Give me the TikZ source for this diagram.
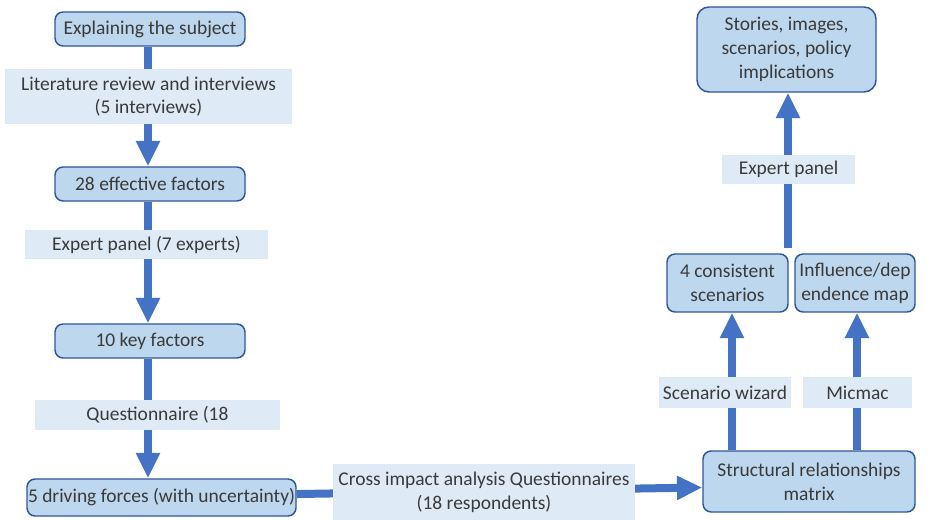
\documentclass[tikz,border=0pt]{standalone}
\usepackage{fontspec}
\setmainfont{Carlito}
\usetikzlibrary{arrows.meta}
\definecolor{boxfill}{HTML}{BDD7EE}
\definecolor{boxline}{HTML}{2F5597}
\definecolor{lblfill}{HTML}{DEEBF7}
\definecolor{arrowc}{HTML}{4472C4}
\definecolor{txt}{HTML}{3A3A3A}
\begin{document}
\begin{tikzpicture}[x=0.75pt,y=-0.75pt,
  every node/.style={text=txt,font=\fontsize{14.6}{17.8}\selectfont,align=center,inner sep=0pt},
  box/.style={draw=boxline,fill=boxfill,line width=1.1pt,rounded corners=6pt},
  lbl/.style={fill=lblfill},
  arr/.style={draw=arrowc,line width=6pt,-{Triangle[width=17pt,length=19pt]}}]
\useasboundingbox (0,0) rectangle (932,520);
% boxes
\node[box,minimum width=142.5pt,minimum height=25.5pt] (expl) at (150,29) {Explaining the subject};
\node[box,minimum width=142.5pt,minimum height=25.5pt] (f28) at (150,184) {28 effective factors};
\node[box,minimum width=142.5pt,minimum height=25.5pt] (f10) at (150,341) {10 key factors};
\node[box,minimum width=201.75pt,minimum height=27.75pt] (five) at (161.5,497.5) {5 driving forces (with uncertainty)};
\node[box,minimum width=159pt,minimum height=45.75pt] (struct) at (809,481.5) {Structural relationships\\matrix};
\node[box,minimum width=90.75pt,minimum height=43.5pt] (cons) at (727.5,283) {4 consistent\\scenarios};
\node[box,minimum width=90pt,minimum height=43.5pt] (infl) at (855,283) {Influence/dep\\endence map};
\node[box,minimum width=134.25pt,minimum height=63.75pt,rounded corners=9pt] (stories) at (786.5,49.5) {Stories, images,\\scenarios, policy\\implications};
% connectors
\draw[arr] (expl.south -| 148,0) -- (f28.north -| 148,0);
\draw[arr] (f28.south -| 148,0) -- (f10.north -| 148,0);
\draw[arr] (f10.south -| 148,0) -- (five.north -| 148,0);
\draw[arr] ([yshift=2.6pt]five.east) -- ([yshift=-4.5pt]struct.west);
\draw[arr] (struct.north -| 732,0) -- (cons.south -| 732,0);
\draw[arr] (struct.north -| 857,0) -- (infl.south -| 857,0);
\coordinate (epstart) at (788,248);
\draw[arr] (epstart) -- (stories.south -| epstart);
% labels
\node[lbl,minimum width=215.25pt,minimum height=41.25pt] (l1) at (148.5,96.5) {Literature review and interviews\\(5 interviews)};
\node[lbl,minimum width=182.25pt,minimum height=21.75pt] (l2) at (146.5,244.5) {Expert panel (7 experts)};
\node[lbl,minimum width=183.75pt,minimum height=22.5pt] (l3) at (157.5,415) {\raisebox{2pt}{Questionnaire (18}};
\node[lbl,minimum width=226.5pt,minimum height=42pt] (l4) at (484,492) {Cross impact analysis Questionnaires\\(18 respondents)};
\node[lbl,minimum width=99pt,minimum height=23.25pt] (l5) at (725,392.5) {Scenario wizard};
\node[lbl,minimum width=81.75pt,minimum height=23.25pt] (l6) at (857.5,392.5) {Micmac};
\node[lbl,minimum width=99.75pt,minimum height=21.75pt] (l7) at (788.5,169.5) {Expert panel};
\end{tikzpicture}
\end{document}
